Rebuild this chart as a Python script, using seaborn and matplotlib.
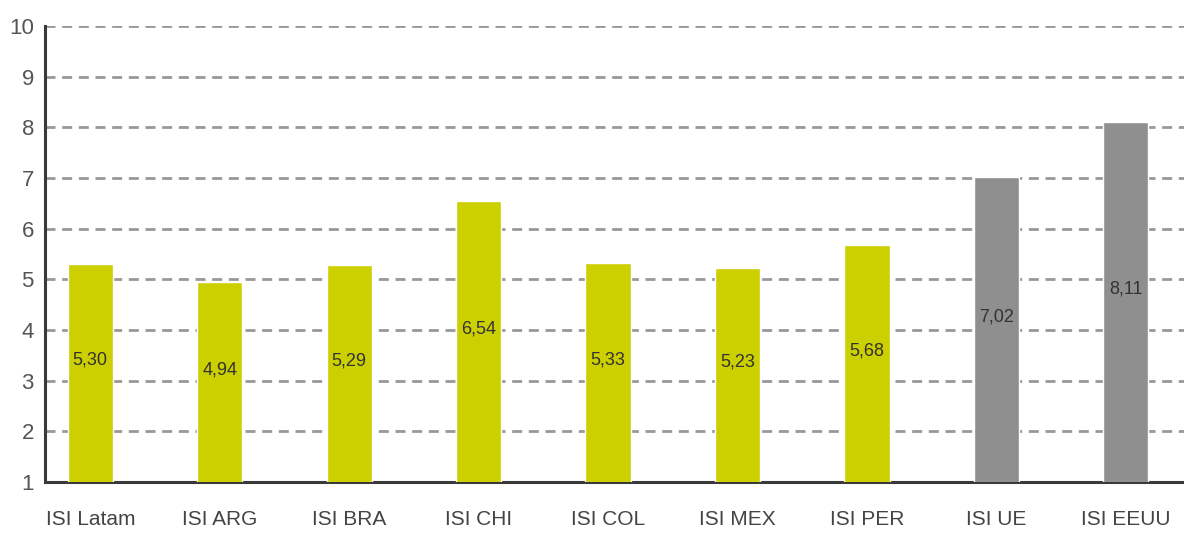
import matplotlib
matplotlib.use("Agg")
import matplotlib.pyplot as plt
import seaborn as sns
import pandas as pd

categories = ["ISI Latam", "ISI ARG", "ISI BRA", "ISI CHI", "ISI COL",
              "ISI MEX", "ISI PER", "ISI UE", "ISI EEUU"]
values = [5.30, 4.94, 5.29, 6.54, 5.33, 5.23, 5.68, 7.02, 8.11]
labels = ["5,30", "4,94", "5,29", "6,54", "5,33", "5,23", "5,68", "7,02", "8,11"]
groups = ["Latam"] * 7 + ["Ref"] * 2
yticks = [1, 2, 3, 4, 5, 6, 7, 8, 9, 10]

df = pd.DataFrame({"cat": categories, "val": values, "grp": groups})

sns.set_style("white")
plt.rcParams["font.family"] = ["Liberation Sans", "DejaVu Sans"]

fig = plt.figure(figsize=(11.84, 5.36), dpi=100)
ax = fig.add_axes([0.038, 0.1007, 0.962, 0.8508])

sns.barplot(data=df, x="cat", y="val", hue="grp",
            palette={"Latam": "#cccf00", "Ref": "#8f8f8f"}, saturation=1,
            width=0.35, dodge=False, legend=False, ax=ax, zorder=3)

ax.set_ylim(1, 10)
ax.set_xlim(-0.35, 8.45)
ax.set_yticks(yticks)
# dashed horizontal guides
ax.yaxis.grid(True, linestyle=(0, (3.6, 2.4)), linewidth=2, color="#989898", zorder=0)
ax.set_axisbelow(True)

for i, (v, lab) in enumerate(zip(values, labels)):
    ax.text(i, (1 + v) / 2 + 0.25, lab, ha="center", va="center",
            fontsize=13, color="#333333", zorder=4)

for s in ["top", "right"]:
    ax.spines[s].set_visible(False)
for s in ["left", "bottom"]:
    ax.spines[s].set_color("#3a3a3a")
    ax.spines[s].set_linewidth(2.2)

ax.tick_params(axis="x", length=0, pad=20, labelsize=15, labelcolor="#444444")
ax.tick_params(axis="y", length=0, pad=8, labelsize=16, labelcolor="#555555")
ax.set_xlabel("")
ax.set_ylabel("")

fig.savefig("out.png", dpi=100)
